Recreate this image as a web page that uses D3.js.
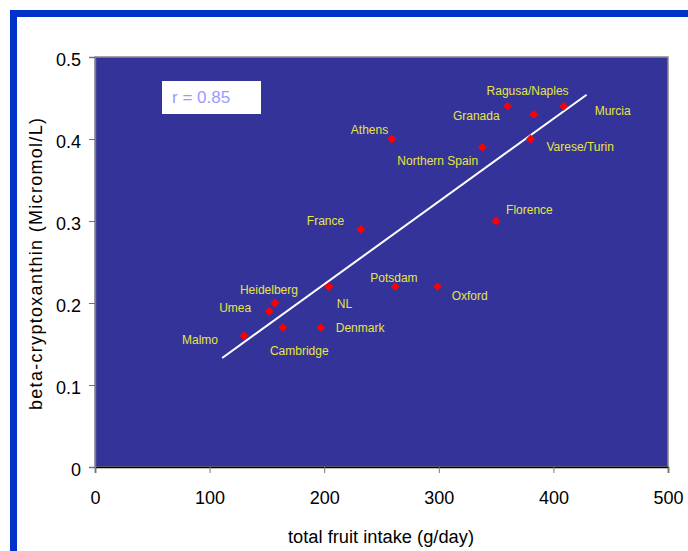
<!DOCTYPE html>
<html><head><meta charset="utf-8">
<script src="https://cdn.jsdelivr.net/npm/d3@7"></script>
<style>body{margin:0;background:#fff}svg{display:block;font-family:"Liberation Sans",Arial,sans-serif}</style>
</head><body>
<script>
const regions = ["Malmo","Umea","Heidelberg","Cambridge","Denmark","NL","France","Potsdam","Oxford","Florence","Athens","Northern Spain","Ragusa/Naples","Granada","Murcia","Varese/Turin"];
const fruitIntake = [130,152,157,164,197,204,232,262,299,350,259,338,360,383,409,380];
const cryptoxanthin = [0.16,0.19,0.20,0.17,0.17,0.22,0.29,0.22,0.22,0.30,0.40,0.39,0.44,0.43,0.44,0.40];
const trendX = [111,429];
const trendY = [0.133,0.454];
const xTicks = [0,100,200,300,400,500];
const yTicks = [0,0.1,0.2,0.3,0.4,0.5];
const rText = "r = 0.85";
// label placement offsets (px) relative to each marker
const labelDx = [-62,-50,-35,-13,15,8,-54,-25,14,10,-41,-85,-21,-81,31,16];
const labelDy = [5,-2,-12,24,1,18,-7,-8,10,-10,-8,15,-14,2,6,9];

const W=688,H=551;
const svg=d3.select("body").append("svg").attr("width",W).attr("height",H);
const L=95,R=668,T=57,B=467;
const x=d3.scaleLinear().domain([0,500]).range([L,R]);
const y=d3.scaleLinear().domain([0,0.5]).range([B,T]);

// outer blue frame
svg.append("rect").attr("x",10).attr("y",10).attr("width",678).attr("height",7).attr("fill","#0033cc");
svg.append("rect").attr("x",10).attr("y",10).attr("width",7).attr("height",541).attr("fill","#0033cc");

// plot area
svg.append("rect").attr("x",L).attr("y",T).attr("width",R-L).attr("height",B-T)
  .attr("fill","#333399").attr("stroke","#8a8a8a").attr("stroke-width",1.5);

// axes
const xAxis=svg.append("g").attr("transform",`translate(0,${B})`)
  .call(d3.axisBottom(x).tickValues(xTicks).tickSize(6).tickPadding(18).tickFormat(d3.format("d")));
xAxis.select(".domain").attr("stroke","#000").attr("stroke-width",1.5);
xAxis.selectAll(".tick line").attr("stroke","#777");
xAxis.selectAll("text").attr("font-size",18).attr("fill","#000");

const yAxis=svg.append("g").attr("transform",`translate(${L},0)`)
  .call(d3.axisLeft(y).tickValues(yTicks).tickSize(6).tickPadding(8).tickFormat(d=>d===0?"0":d3.format(".1f")(d)));
yAxis.select(".domain").attr("stroke","#7777aa").attr("stroke-width",1.5);
yAxis.selectAll(".tick line").attr("stroke","#6666bb");
yAxis.selectAll("text").attr("font-size",18).attr("fill","#000").attr("dy","0.45em");

// axis titles
svg.append("text").attr("x",381).attr("y",543).attr("text-anchor","middle")
  .attr("font-size",18).attr("fill","#000").attr("textLength",186).attr("lengthAdjust","spacingAndGlyphs")
  .text("total fruit intake (g/day)");
svg.append("text").attr("transform",`translate(42,264) rotate(-90)`).attr("text-anchor","middle")
  .attr("font-size",18).attr("fill","#000").attr("textLength",292).attr("lengthAdjust","spacing")
  .text("beta-cryptoxanthin (Micromol/L)");

// r box
svg.append("rect").attr("x",162).attr("y",81).attr("width",99).attr("height",33).attr("fill","#fff");
svg.append("text").attr("x",172).attr("y",99).attr("dominant-baseline","middle")
  .attr("font-size",17).attr("fill","#9999ff").text(rText);

// trend line
svg.append("line").attr("x1",x(trendX[0])).attr("y1",y(trendY[0])).attr("x2",x(trendX[1])).attr("y2",y(trendY[1]))
  .attr("stroke","#fff").attr("stroke-width",2);

// points
const sym=d3.symbol().type(d3.symbolSquare).size(40);
regions.forEach((r,i)=>{
  svg.append("path").attr("d",sym()).attr("fill","#ff0000")
    .attr("transform",`translate(${x(fruitIntake[i])},${y(cryptoxanthin[i])}) rotate(45)`);
  svg.append("text").attr("x",x(fruitIntake[i])+labelDx[i]).attr("y",y(cryptoxanthin[i])+labelDy[i])
    .attr("dominant-baseline","middle").attr("font-size",12).attr("fill","#e6e640").text(r);
});
</script>
</body></html>
